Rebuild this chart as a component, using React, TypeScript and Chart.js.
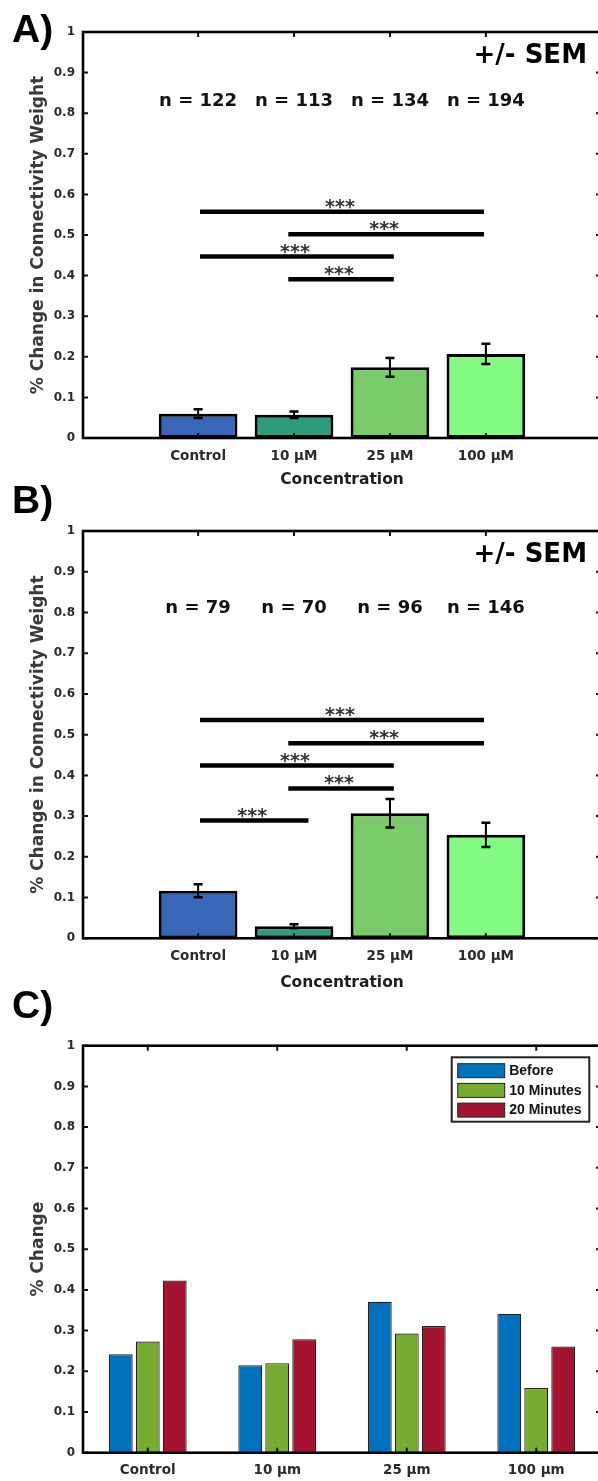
import React, { useEffect, useRef } from 'react';
import { Chart, registerables } from 'chart.js';

Chart.register(...registerables);

// ---------- data ----------
const AB_CATEGORIES = ['Control', '10 μM', '25 μM', '100 μM'];
const AB_POSITIONS = [1, 2, 3, 4];
const AB_COLORS = ['#3866b8', '#2e9b7f', '#7acb69', '#82fc82'];

const Y_TICK_VALUES = [0, 0.1, 0.2, 0.3, 0.4, 0.5, 0.6, 0.7, 0.8, 0.9, 1];
const Y_TICK_LABELS = ['0', '0.1', '0.2', '0.3', '0.4', '0.5', '0.6', '0.7', '0.8', '0.9', '1'];

const A_MEAN = [0.06, 0.057, 0.174, 0.207];
const A_SEM = [0.011, 0.008, 0.023, 0.025];
const A_N = ['n = 122', 'n = 113', 'n = 134', 'n = 194'];
const A_N_LEVEL = 0.83;
const A_SIG_FROM = [1.02, 1.94, 1.02, 1.94];
const A_SIG_TO = [3.98, 3.98, 3.04, 3.04];
const A_SIG_LEVEL = [0.557, 0.502, 0.447, 0.391];

const B_MEAN = [0.117, 0.0295, 0.307, 0.254];
const B_SEM = [0.016, 0.005, 0.035, 0.03];
const B_N = ['n = 79', 'n = 70', 'n = 96', 'n = 146'];
const B_N_LEVEL = 0.81;
const B_SIG_FROM = [1.02, 1.94, 1.02, 1.94, 1.02];
const B_SIG_TO = [3.98, 3.98, 3.04, 3.04, 2.15];
const B_SIG_LEVEL = [0.536, 0.479, 0.424, 0.368, 0.289];

const SIG_MARK = '***';
const SEM_NOTE = '+/- SEM';
const SEM_LEVEL = 0.94;

const C_CATEGORIES = ['Control', '10 μm', '25 μm', '100 μm'];
const C_SERIES = ['Before', '10 Minutes', '20 Minutes'];
const C_COLORS = ['#0072bd', '#77ac30', '#a2142f'];
const C_BEFORE = [0.242, 0.215, 0.371, 0.341];
const C_10MIN = [0.273, 0.22, 0.293, 0.159];
const C_20MIN = [0.423, 0.279, 0.311, 0.261];

// ---------- styling helpers ----------
const FONT = 'DejaVu Sans';
const TICK_COLOR = '#2b2b2b';
const CANVAS_W = 610;
const AREA_LEFT = 83;
const AREA_RIGHT = 601;
const TICK_LEN = 5;

type Panel = {
  canvasTop: number;
  canvasHeight: number;
  areaTop: number;
  areaBottom: number;
  label: string;
  labelBaseline: number;
};

function drawFrame(chart: any, panel: Panel) {
  const { ctx, chartArea: a, scales } = chart;
  const x = scales.x;
  const y = scales.y;
  ctx.save();
  ctx.strokeStyle = '#111';
  ctx.lineWidth = 2;
  ctx.beginPath();
  for (let i = 0; i < x.ticks.length; i++) {
    const px = x.getPixelForTick(i);
    ctx.moveTo(px, a.bottom);
    ctx.lineTo(px, a.bottom - TICK_LEN);
    ctx.moveTo(px, a.top);
    ctx.lineTo(px, a.top + TICK_LEN);
  }
  for (let i = 0; i < y.ticks.length; i++) {
    const py = y.getPixelForTick(i);
    ctx.moveTo(a.left, py);
    ctx.lineTo(a.left + TICK_LEN, py);
    ctx.moveTo(a.right, py);
    ctx.lineTo(a.right - TICK_LEN, py);
  }
  ctx.stroke();
  ctx.lineWidth = 2.6;
  ctx.strokeStyle = '#000';
  ctx.strokeRect(a.left, a.top, a.right - a.left, a.bottom - a.top);
  ctx.fillStyle = '#000';
  ctx.font = `bold 39px "Liberation Sans"`;
  ctx.textAlign = 'left';
  ctx.textBaseline = 'alphabetic';
  ctx.fillText(panel.label, 12, panel.labelBaseline);
  ctx.restore();
}

function yScale(title: string, panel: Panel) {
  return {
    type: 'linear',
    min: 0,
    max: 1,
    grid: { display: false, drawTicks: false },
    border: { display: false },
    afterBuildTicks: (s: any) => {
      s.ticks = Y_TICK_VALUES.map((v) => ({ value: v }));
    },
    afterFit: (s: any) => {
      s.width = AREA_LEFT;
    },
    ticks: {
      padding: 8,
      color: TICK_COLOR,
      font: { family: FONT, weight: 'bold', size: 12 },
      callback: (_v: any, i: number) => Y_TICK_LABELS[i],
    },
    title: {
      display: true,
      text: title,
      color: '#3a3a3a',
      font: { family: FONT, weight: 'bold', size: 17 },
      padding: { top: 28, bottom: 0 },
    },
  };
}

function sigChartConfig(
  panel: Panel,
  mean: number[],
  sem: number[],
  nLabels: string[],
  nLevel: number,
  sigFrom: number[],
  sigTo: number[],
  sigLevel: number[],
  titleBottomPad: number
) {
  const plugin = {
    id: 'sigDecor',
    afterDraw(chart: any) {
      const { ctx, chartArea: a, scales } = chart;
      const x = scales.x;
      const y = scales.y;
      ctx.save();
      // error bars
      ctx.strokeStyle = '#000';
      for (let i = 0; i < AB_POSITIONS.length; i++) {
        const px = x.getPixelForValue(AB_POSITIONS[i]);
        const yt = y.getPixelForValue(mean[i] + sem[i]);
        const yb = y.getPixelForValue(mean[i] - sem[i]);
        ctx.lineWidth = 2;
        ctx.beginPath();
        ctx.moveTo(px, yt);
        ctx.lineTo(px, yb);
        ctx.stroke();
        ctx.lineWidth = 2.5;
        ctx.beginPath();
        ctx.moveTo(px - 4.5, yt);
        ctx.lineTo(px + 4.5, yt);
        ctx.moveTo(px - 4.5, yb);
        ctx.lineTo(px + 4.5, yb);
        ctx.stroke();
      }
      // significance lines
      for (let i = 0; i < sigLevel.length; i++) {
        const x0 = x.getPixelForValue(sigFrom[i]);
        const x1 = x.getPixelForValue(sigTo[i]);
        const py = y.getPixelForValue(sigLevel[i]);
        ctx.lineWidth = 4.5;
        ctx.strokeStyle = '#000';
        ctx.beginPath();
        ctx.moveTo(x0, py);
        ctx.lineTo(x1, py);
        ctx.stroke();
        ctx.fillStyle = '#333';
        ctx.font = `bold 19px "${FONT}"`;
        ctx.textAlign = 'center';
        ctx.textBaseline = 'alphabetic';
        ctx.fillText(SIG_MARK, (x0 + x1) / 2 - 2, py + 1);
      }
      // n labels
      ctx.fillStyle = '#111';
      ctx.font = `bold 18px "${FONT}"`;
      ctx.textAlign = 'center';
      ctx.textBaseline = 'middle';
      for (let i = 0; i < nLabels.length; i++) {
        ctx.fillText(nLabels[i], x.getPixelForValue(AB_POSITIONS[i]), y.getPixelForValue(nLevel));
      }
      // +/- SEM
      ctx.fillStyle = '#000';
      ctx.font = `bold 26px "${FONT}"`;
      ctx.textAlign = 'right';
      ctx.fillText(SEM_NOTE, a.right - 14, y.getPixelForValue(SEM_LEVEL));
      ctx.restore();
      drawFrame(chart, panel);
    },
  };
  return {
    type: 'bar',
    data: {
      datasets: [
        {
          data: AB_POSITIONS.map((p, i) => ({ x: p, y: mean[i] })),
          backgroundColor: AB_COLORS,
          borderColor: '#000',
          borderWidth: 3,
          borderSkipped: false,
          barPercentage: 0.82,
          categoryPercentage: 1,
        },
      ],
    },
    options: {
      responsive: false,
      animation: false,
      devicePixelRatio: 1,
      layout: { padding: { top: panel.areaTop, right: CANVAS_W - AREA_RIGHT, left: 0, bottom: 0 } },
      plugins: { legend: { display: false }, tooltip: { enabled: false } },
      scales: {
        x: {
          type: 'linear',
          offset: false,
          min: -0.2,
          max: 5.2,
          grid: { display: false, drawTicks: false },
          border: { display: false },
          afterBuildTicks: (s: any) => {
            s.ticks = AB_POSITIONS.map((v) => ({ value: v }));
          },
          afterFit: (s: any) => {
            s.height = panel.canvasHeight - panel.areaBottom;
          },
          ticks: {
            autoSkip: false,
            maxRotation: 0,
            padding: 10,
            color: TICK_COLOR,
            font: { family: FONT, weight: 'bold', size: 13.5 },
            callback: (_v: any, i: number) => AB_CATEGORIES[i],
          },
          title: {
            display: true,
            text: 'Concentration',
            color: '#1e1e1e',
            font: { family: FONT, weight: 'bold', size: 15.5 },
            padding: { top: 0, bottom: titleBottomPad },
          },
        },
        y: yScale('% Change in Connectivity Weight', panel),
      },
    },
    plugins: [plugin],
  };
}

function groupedConfig(panel: Panel) {
  const series = [C_BEFORE, C_10MIN, C_20MIN];
  const plugin = {
    id: 'groupDecor',
    afterDraw(chart: any) {
      const { ctx, chartArea: a } = chart;
      drawFrame(chart, panel);
      // legend
      const w = 137.6;
      const h = 64.4;
      const bx = a.right - 11.7 - w;
      const by = a.top + 11.6;
      ctx.save();
      ctx.fillStyle = '#fff';
      ctx.fillRect(bx, by, w, h);
      ctx.lineWidth = 2;
      ctx.strokeStyle = '#222';
      ctx.strokeRect(bx, by, w, h);
      ctx.font = `bold 14px "Liberation Sans"`;
      ctx.textAlign = 'left';
      ctx.textBaseline = 'middle';
      chart.data.datasets.forEach((ds: any, i: number) => {
        const cy = by + 13.4 + i * 19.7;
        ctx.fillStyle = ds.backgroundColor;
        ctx.fillRect(bx + 6, cy - 7, 47, 14);
        ctx.lineWidth = 1;
        ctx.strokeStyle = '#222';
        ctx.strokeRect(bx + 6, cy - 7, 47, 14);
        ctx.fillStyle = '#111';
        ctx.fillText(ds.label, bx + 57.5, cy + 0.5);
      });
      ctx.restore();
    },
  };
  return {
    type: 'bar',
    data: {
      labels: C_CATEGORIES,
      datasets: series.map((vals, i) => ({
        label: C_SERIES[i],
        data: vals,
        backgroundColor: C_COLORS[i],
        borderColor: '#222',
        borderWidth: 1.2,
        borderSkipped: false,
        categoryPercentage: 0.625,
        barPercentage: 0.885,
      })),
    },
    options: {
      responsive: false,
      animation: false,
      devicePixelRatio: 1,
      layout: { padding: { top: panel.areaTop, right: CANVAS_W - AREA_RIGHT, left: 0, bottom: 0 } },
      plugins: { legend: { display: false }, tooltip: { enabled: false } },
      scales: {
        x: {
          type: 'category',
          offset: true,
          grid: { display: false, drawTicks: false },
          border: { display: false },
          afterFit: (s: any) => {
            s.height = panel.canvasHeight - panel.areaBottom;
          },
          ticks: {
            autoSkip: false,
            maxRotation: 0,
            padding: 10,
            color: TICK_COLOR,
            font: { family: FONT, weight: 'bold', size: 13.5 },
          },
        },
        y: yScale('% Change', panel),
      },
    },
    plugins: [plugin],
  };
}

const PANEL_A: Panel = { canvasTop: 0, canvasHeight: 500, areaTop: 32, areaBottom: 438, label: 'A)', labelBaseline: 42 };
const PANEL_B: Panel = { canvasTop: 480, canvasHeight: 520, areaTop: 51, areaBottom: 458.3, label: 'B)', labelBaseline: 33 };
const PANEL_C: Panel = { canvasTop: 985, canvasHeight: 496, areaTop: 60.7, areaBottom: 467.7, label: 'C)', labelBaseline: 33 };

function ChartCanvas({ panel, build }: { panel: Panel; build: () => any }) {
  const ref = useRef<HTMLCanvasElement | null>(null);
  useEffect(() => {
    if (!ref.current) return;
    const chart = new Chart(ref.current, build());
    return () => chart.destroy();
  }, []);
  return (
    <canvas
      ref={ref}
      width={CANVAS_W}
      height={panel.canvasHeight}
      style={{ position: 'absolute', left: 0, top: panel.canvasTop, width: CANVAS_W, height: panel.canvasHeight }}
    />
  );
}

export default function App() {
  useEffect(() => {
    document.body.style.margin = '0';
  }, []);
  return (
    <div
      style={{
        position: 'absolute',
        left: 0,
        top: 0,
        width: 598,
        height: 1481,
        overflow: 'hidden',
        background: '#fff',
      }}
    >
      <ChartCanvas
        panel={PANEL_A}
        build={() =>
          sigChartConfig(PANEL_A, A_MEAN, A_SEM, A_N, A_N_LEVEL, A_SIG_FROM, A_SIG_TO, A_SIG_LEVEL, 10.7)
        }
      />
      <ChartCanvas
        panel={PANEL_B}
        build={() =>
          sigChartConfig(PANEL_B, B_MEAN, B_SEM, B_N, B_N_LEVEL, B_SIG_FROM, B_SIG_TO, B_SIG_LEVEL, 7.7)
        }
      />
      <ChartCanvas panel={PANEL_C} build={() => groupedConfig(PANEL_C)} />
    </div>
  );
}
